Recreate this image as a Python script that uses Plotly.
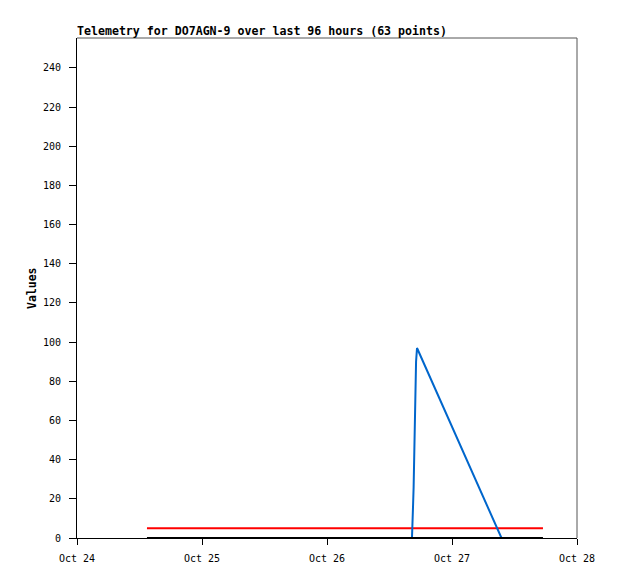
import plotly.graph_objects as go

# Series data
flat_times = ["2023-10-24 13:26", "2023-10-27 17:28"]
red_values = [5, 5]
black_values = [0, 0]

blue_times = [
    "2023-10-26 16:19", "2023-10-26 16:25", "2023-10-26 16:31", "2023-10-26 16:38",
    "2023-10-26 16:46", "2023-10-26 16:58", "2023-10-26 17:06", "2023-10-26 17:17",
    "2023-10-27 09:30",
]
blue_values = [0, 5, 16, 26, 47, 80, 90, 97, 0]

x_tickvals = ["2023-10-24", "2023-10-25", "2023-10-26", "2023-10-27", "2023-10-28"]
x_ticktext = ["Oct 24", "Oct 25", "Oct 26", "Oct 27", "Oct 28"]
y_tickvals = list(range(0, 241, 20))
y_ticktext = [str(v) for v in y_tickvals]

title_text = "Telemetry for DO7AGN-9 over last 96 hours (63 points)"
font_mono = "DejaVu Sans Mono"

# page body has an 8px default margin, so the figure is offset by 8px
fig = go.Figure()
fig.add_trace(go.Scatter(x=flat_times, y=red_values, mode="lines",
                         line=dict(color="#ff0000", width=2), showlegend=False))
fig.add_trace(go.Scatter(x=blue_times, y=blue_values, mode="lines",
                         line=dict(color="#0066cc", width=2), showlegend=False))
fig.add_trace(go.Scatter(x=flat_times, y=black_values, mode="lines",
                         line=dict(color="#000000", width=2), showlegend=False))

fig.update_layout(
    width=618, height=579,
    margin=dict(l=69, r=49, t=30, b=49, autoexpand=False),
    paper_bgcolor="white", plot_bgcolor="white",
    showlegend=False,
    title=dict(text="<b>" + title_text + "</b>", x=69/618, xanchor="left",
               y=1 - 23/579, yanchor="middle",
               font=dict(family=font_mono, size=11.6, color="black")),
    font=dict(family=font_mono, size=10, color="black"),
    shapes=[
        dict(type="line", xref="paper", yref="paper", x0=0, x1=1, y0=1, y1=1,
             line=dict(color="#555555", width=1)),
        dict(type="line", xref="paper", yref="paper", x0=1, x1=1, y0=0, y1=1,
             line=dict(color="#555555", width=1)),
    ],
    annotations=[
        dict(text="<b>Values</b>", xref="paper", yref="paper",
             x=-45/500, y=0.5, xanchor="center", yanchor="middle",
             textangle=-90, showarrow=False,
             font=dict(family=font_mono, size=11.5, color="black")),
    ],
)
fig.update_xaxes(
    range=["2023-10-24", "2023-10-28"],
    tickvals=x_tickvals, ticktext=x_ticktext,
    showgrid=False, zeroline=False, automargin=False,
    showline=True, linecolor="black", linewidth=1,
    ticks="outside", ticklen=6, tickcolor="black", tickwidth=1,
    ticklabelstandoff=5,
    tickfont=dict(family=font_mono, size=10),
)
fig.update_yaxes(
    range=[0, 255.3],
    tickvals=y_tickvals,
    ticktext=[t + "&nbsp;" for t in y_ticktext],
    showgrid=False, zeroline=False, automargin=False,
    showline=True, linecolor="black", linewidth=1,
    ticks="outside", ticklen=7, tickcolor="black", tickwidth=1,
    tickfont=dict(family=font_mono, size=10),
)

fig.write_html("out.html")
